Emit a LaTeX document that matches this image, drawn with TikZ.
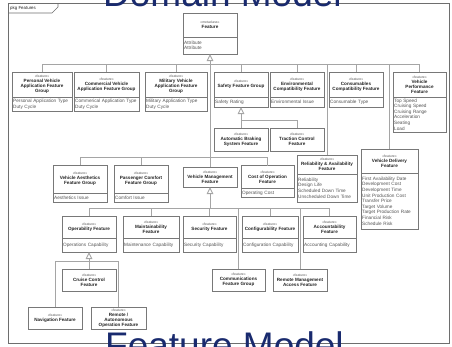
\documentclass[tikz,border=0pt]{standalone}
\usepackage{fontspec}
\setmainfont{Liberation Sans}
\usepackage{tikz}
\usetikzlibrary{positioning, arrows.meta}
\usepackage{xcolor}

\definecolor{boxgray}{RGB}{120,120,120}
\definecolor{linkgray}{RGB}{165,165,165}
\definecolor{framegray}{RGB}{110,110,110}
\definecolor{namegray}{RGB}{35,35,35}
\definecolor{attrgray}{RGB}{85,85,85}
\definecolor{titleblue}{RGB}{25,42,110}

\newcommand{\stereotype}[1]{{\fontsize{3.4}{4}\selectfont\mdseries\color{attrgray}«#1»}}

\begin{document}
\begin{tikzpicture}[x=1pt, y=-1pt,
    class/.style 2 args={draw=boxgray, fill=white, line width=0.6pt, outer sep=0pt, inner sep=0pt,
        align=center, text=namegray, font=\bfseries\fontsize{4.6}{5}\selectfont,
        minimum width=#1, minimum height=#2},
    attrs/.style 2 args={draw=boxgray, fill=white, line width=0.6pt, outer sep=0pt,
        inner xsep=1.2pt, inner ysep=1pt, align=left, text=attrgray,
        font=\fontsize{4.7}{5.6}\selectfont, text width=#1-2.4pt, minimum height=#2},
    link/.style={draw=linkgray, line width=0.9pt},
    gen/.style={link, -{Triangle[open, length=7pt, width=6.5pt]}},
    frame/.style={draw=framegray, line width=0.7pt},
    title/.style={text=titleblue, font=\fontsize{37}{40}\selectfont, inner sep=0pt, anchor=base west}]
    \useasboundingbox (0,0) rectangle (452,346);

    % package frame and its tab
    \draw[frame] (8,3) rectangle (449,343);
    \draw[frame] (8,13) -- (52,13) -- (58,7) -- (58,3);
    \node[anchor=west, inner sep=0pt, text=namegray, font=\fontsize{4.4}{5}\selectfont] (pkg) at (10,8) {pkg Features};

    \node[title] (domain-title) at (103,6) {Domain Model};
    \node[title] (model-title) at (105,358.5) {Feature Model};

    % root metaclass
    \node[class={54pt}{24pt}, anchor=north west] (feature) at (183,13) {\stereotype{metaclass}\\Feature};
    \node[attrs={54pt}{17pt}, below=0pt of feature] (feature-attrs) {Attribute\\Attribute};

    % first level
    \node[class={60pt}{25pt}, anchor=north west] (personal) at (12,72) {\stereotype{feature}\\Personal Vehicle\\Application Feature\\Group};
    \node[attrs={60pt}{14pt}, below=0pt of personal] (personal-attrs) {Personal Application Type\\Duty Cycle};
    \node[class={65pt}{25pt}, right=2pt of personal] (commercial) {\stereotype{feature}\\Commercial Vehicle\\Application Feature Group};
    \node[attrs={65pt}{14pt}, below=0pt of commercial] (commercial-attrs) {Commerical Application Type\\Duty Cycle};
    \node[class={62pt}{25pt}, right=6pt of commercial] (military) {\stereotype{feature}\\Military Vehicle\\Application Feature\\Group};
    \node[attrs={62pt}{14pt}, below=0pt of military] (military-attrs) {Military Application Type\\Duty Cycle};
    \node[class={54pt}{25pt}, right=7pt of military] (safety) {\stereotype{feature}\\Safety Feature Group};
    \node[attrs={54pt}{10pt}, below=0pt of safety] (safety-attrs) {Safety Rating};
    \node[class={54pt}{25pt}, right=2pt of safety] (environmental) {\stereotype{feature}\\Environmental\\Compatibility Feature};
    \node[attrs={54pt}{10pt}, below=0pt of environmental] (environmental-attrs) {Environmental Issue};
    \node[class={54pt}{25pt}, right=5pt of environmental] (consumables) {\stereotype{feature}\\Consumables\\Compatibility Feature};
    \node[attrs={54pt}{10pt}, below=0pt of consumables] (consumables-attrs) {Consumable Type};
    \node[class={53pt}{25pt}, right=10pt of consumables] (performance) {\stereotype{feature}\\Vehicle\\Performance\\Feature};
    \node[attrs={53pt}{35pt}, below=0pt of performance] (performance-attrs) {Top Speed\\Cruising Speed\\Cruising Range\\Acceleration\\Seating\\Load};

    \node[class={54pt}{23pt}, below=21pt of safety-attrs] (braking) {\stereotype{feature}\\Automatic Braking\\System Feature};
    \node[class={54pt}{23pt}, right=2pt of braking] (traction) {\stereotype{feature}\\Traction Control\\Feature};

    % second level
    \node[class={54pt}{28pt}, anchor=north west] (aesthetics) at (53,165) {\stereotype{feature}\\Vehicle Aesthetics\\Feature Group};
    \node[attrs={54pt}{9pt}, below=0pt of aesthetics] (aesthetics-attrs) {Aesthetics Issue};
    \node[class={54pt}{28pt}, right=7pt of aesthetics] (comfort) {\stereotype{feature}\\Passenger Comfort\\Feature Group};
    \node[attrs={54pt}{9pt}, below=0pt of comfort] (comfort-attrs) {Comfort Issue};
    \node[class={54pt}{20pt}, anchor=north west] (management) at (183,167) {\stereotype{feature}\\Vehicle Management\\Feature};
    \node[class={53pt}{23pt}, right=4pt of management] (cost) {\stereotype{feature}\\Cost of Operation\\Feature};
    \node[attrs={53pt}{9pt}, below=0pt of cost] (cost-attrs) {Operating Cost};
    \node[class={60pt}{19pt}, anchor=north west] (reliability) at (297,155) {\stereotype{feature}\\Reliability \& Availability\\Feature};
    \node[attrs={60pt}{28pt}, below=0pt of reliability] (reliability-attrs) {Reliability\\Design Life\\Scheduled Down Time\\Unscheduled Down Time};
    \node[class={57pt}{24pt}, anchor=north west] (delivery) at (361,149) {\stereotype{feature}\\Vehicle Delivery\\Feature};
    \node[attrs={57pt}{56pt}, below=0pt of delivery] (delivery-attrs) {First Availability Date\\Development Cost\\Development Time\\Unit Production Cost\\Transfer Price\\Target Volume\\Target Production Rate\\Financial Risk\\Schedule Risk};

    % under vehicle management
    \node[class={54pt}{22pt}, anchor=north west] (operability) at (62,216) {\stereotype{feature}\\Operability Feature};
    \node[attrs={54pt}{14pt}, below=0pt of operability] (operability-attrs) {Operations Capability};
    \node[class={56pt}{22pt}, right=7pt of operability] (maintainability) {\stereotype{feature}\\Maintainability\\Feature};
    \node[attrs={56pt}{14pt}, below=0pt of maintainability] (maintainability-attrs) {Maintenance Capability};
    \node[class={53pt}{22pt}, right=4pt of maintainability] (security) {\stereotype{feature}\\Security Feature};
    \node[attrs={53pt}{14pt}, below=0pt of security] (security-attrs) {Security Capability};
    \node[class={56pt}{22pt}, right=6pt of security] (configurability) {\stereotype{feature}\\Configurability Feature};
    \node[attrs={56pt}{14pt}, below=0pt of configurability] (configurability-attrs) {Configuration Capability};
    \node[class={53pt}{22pt}, right=5pt of configurability] (accountability) {\stereotype{feature}\\Accountability\\Feature};
    \node[attrs={53pt}{14pt}, below=0pt of accountability] (accountability-attrs) {Accounting Capability};

    \node[class={53pt}{22pt}, anchor=north west] (communications) at (212,269) {\stereotype{feature}\\Communications\\Feature Group};
    \node[class={54pt}{22pt}, right=8pt of communications] (remote-access) {\stereotype{feature}\\Remote Management\\Access Feature};

    % under operability
    \node[class={54pt}{22pt}, below=17pt of operability-attrs] (cruise-control) {\stereotype{feature}\\Cruise Control\\Feature};
    \node[class={54pt}{22pt}, anchor=north west] (navigation) at (28,307) {\stereotype{feature}\\Navigation Feature};
    \node[class={55pt}{22pt}, right=9pt of navigation] (autonomous) {\stereotype{feature}\\Remote /\\Autonomous\\Operation Feature};

    % generalisation trees
    \coordinate (feature-bus) at (210,64);
    \coordinate (group-bus) at (210,157);
    \coordinate (safety-bus) at (241,120);
    \coordinate (management-bus) at (210,208);
    \coordinate (operability-bus) at (89,261);

    \draw[gen] (management.north) -- (feature-attrs.south);
    \draw[link] (personal.north) |- (performance.north |- feature-bus) -- (performance.north);
    \draw[link] (commercial.north) -- (commercial.north |- feature-bus);
    \draw[link] (military.north) -- (military.north |- feature-bus);
    \draw[link] (safety.north) -- (safety.north |- feature-bus);
    \draw[link] (environmental.north) -- (environmental.north |- feature-bus);
    \draw[link] (consumables.north) -- (consumables.north |- feature-bus);
    \draw[link] (reliability.north) -- (reliability.north |- feature-bus);
    \draw[link] (delivery.north) -- (delivery.north |- feature-bus);

    \draw[link] (aesthetics.north) |- (cost.north |- group-bus) -- (cost.north);
    \draw[link] (comfort.north) -- (comfort.north |- group-bus);

    \draw[gen] (braking.north) -- (safety-attrs.south);
    \draw[link] (braking.north |- safety-bus) -| (traction.north);

    \draw[gen] (management.south |- management-bus) -- (management.south);
    \draw[link] (operability.north) |- (accountability.north |- management-bus) -- (accountability.north);
    \draw[link] (maintainability.north) -- (maintainability.north |- management-bus);
    \draw[link] (security.north) -- (security.north |- management-bus);
    \draw[link] (configurability.north) -- (configurability.north |- management-bus);
    \draw[link] (communications.north) -- (communications.north |- management-bus);
    \draw[link] (remote-access.north) -- (remote-access.north |- management-bus);

    \draw[gen] (cruise-control.north) -- (operability-attrs.south);
    \draw[link] (navigation.north) |- (autonomous.north |- operability-bus) -- (autonomous.north);
\end{tikzpicture}
\end{document}
